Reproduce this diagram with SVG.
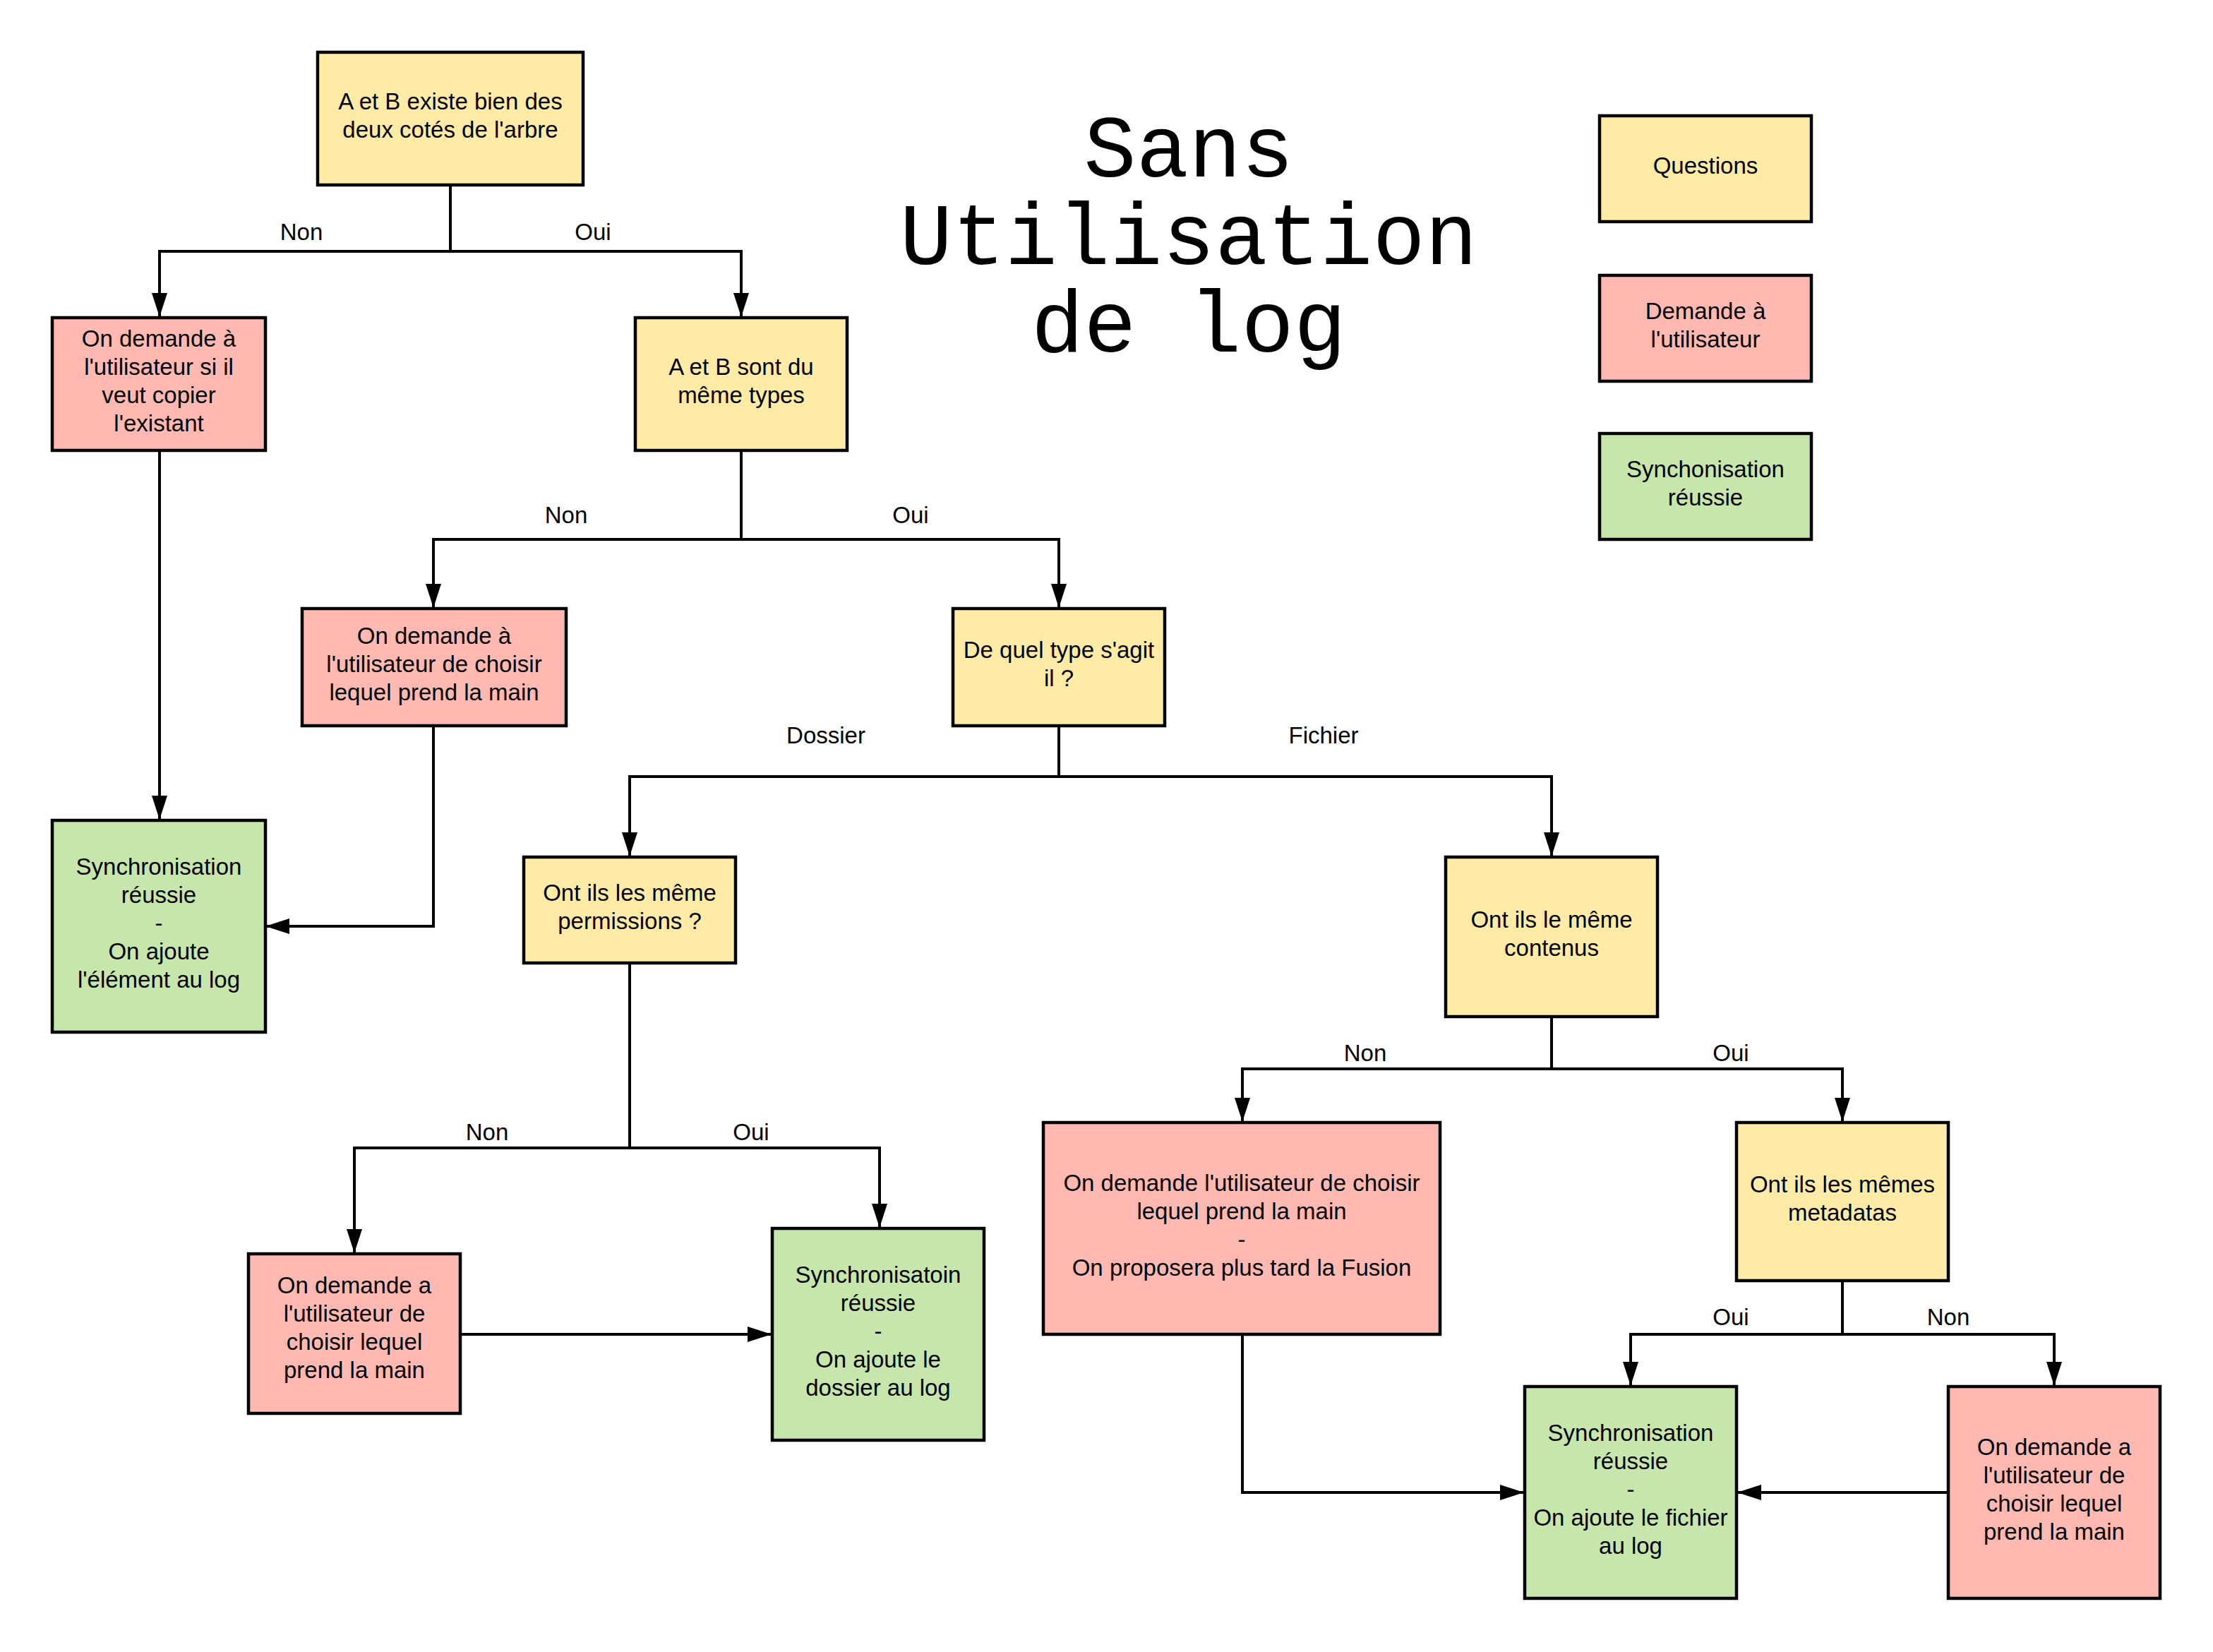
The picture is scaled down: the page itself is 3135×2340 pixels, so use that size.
<svg xmlns="http://www.w3.org/2000/svg" width="3135" height="2340" viewBox="0 0 3135 2340">
<style>
.q{fill:#FFEBA6;stroke:#000;stroke-width:4.5}
.d{fill:#FFB9B0;stroke:#000;stroke-width:4.5}
.s{fill:#C6E6AC;stroke:#000;stroke-width:4.5}
text{font-family:"Liberation Sans",Arial,sans-serif;font-size:33px;fill:#000;text-anchor:middle}
.t{font-family:"Liberation Mono","Courier New",monospace;font-size:124px}
.c{fill:none;stroke:#000;stroke-width:4;marker-end:url(#a)}
.n{fill:none;stroke:#000;stroke-width:4}
</style>
<defs>
<marker id="a" viewBox="0 0 34 22" refX="33" refY="11" markerWidth="34" markerHeight="22" markerUnits="userSpaceOnUse" orient="auto">
<path d="M0,0 L34,11 L0,22 z" fill="#000"/>
</marker>
</defs>
<rect width="3135" height="2340" fill="#fff"/>
<g id="title">
<text class="t" x="1684" y="250">Sans</text>
<text class="t" x="1684" y="374">Utilisation</text>
<text class="t" x="1684" y="498">de log</text>
</g>
<g id="connectors">
<path class="n" d="M638,262 V356"/>
<path class="c" d="M638,356 H226 V448"/>
<path class="c" d="M638,356 H1050 V448"/>
<path class="c" d="M226,638 V1160"/>
<path class="n" d="M1050,638 V764"/>
<path class="c" d="M1050,764 H614 V860"/>
<path class="c" d="M1050,764 H1500 V860"/>
<path class="c" d="M614,1028 V1312 H377"/>
<path class="n" d="M1500,1028 V1100"/>
<path class="c" d="M1500,1100 H892 V1212"/>
<path class="c" d="M1500,1100 H2198 V1212"/>
<path class="n" d="M892,1364 V1626"/>
<path class="c" d="M892,1626 H502 V1774"/>
<path class="c" d="M892,1626 H1246 V1738"/>
<path class="c" d="M652,1890 H1092"/>
<path class="n" d="M2198,1440 V1514"/>
<path class="c" d="M2198,1514 H1760 V1588"/>
<path class="c" d="M2198,1514 H2610 V1588"/>
<path class="c" d="M1760,1890 V2114 H2158"/>
<path class="n" d="M2610,1814 V1890"/>
<path class="c" d="M2610,1890 H2310 V1962"/>
<path class="c" d="M2610,1890 H2910 V1962"/>
<path class="c" d="M2760,2114 H2462"/>
<text x="427" y="340">Non</text>
<text x="840" y="340">Oui</text>
<text x="802" y="741">Non</text>
<text x="1290" y="741">Oui</text>
<text x="1170" y="1053">Dossier</text>
<text x="1875" y="1053">Fichier</text>
<text x="690" y="1615">Non</text>
<text x="1064" y="1615">Oui</text>
<text x="1934" y="1503">Non</text>
<text x="2452" y="1503">Oui</text>
<text x="2452" y="1877">Oui</text>
<text x="2760" y="1877">Non</text>
</g>
<g id="n1"><rect class="q" x="450" y="74" width="376" height="188"/>
<text x="638" y="155">A et B existe bien des</text><text x="638" y="195">deux cotés de l'arbre</text></g>
<g id="n2"><rect class="d" x="74" y="450" width="302" height="188"/>
<text x="225" y="491">On demande à</text><text x="225" y="531">l'utilisateur si il</text><text x="225" y="571">veut copier</text><text x="225" y="611">l'existant</text></g>
<g id="n3"><rect class="q" x="900" y="450" width="300" height="188"/>
<text x="1050" y="531">A et B sont du</text><text x="1050" y="571">même types</text></g>
<g id="n4"><rect class="d" x="428" y="862" width="374" height="166"/>
<text x="615" y="912">On demande à</text><text x="615" y="952">l'utilisateur de choisir</text><text x="615" y="992">lequel prend la main</text></g>
<g id="n5"><rect class="q" x="1350" y="862" width="300" height="166"/>
<text x="1500" y="932">De quel type s'agit</text><text x="1500" y="972">il ?</text></g>
<g id="n6"><rect class="s" x="74" y="1162" width="302" height="300"/>
<text x="225" y="1239">Synchronisation</text><text x="225" y="1279">réussie</text><text x="225" y="1319">-</text><text x="225" y="1359">On ajoute</text><text x="225" y="1399">l'élément au log</text></g>
<g id="n7"><rect class="q" x="742" y="1214" width="300" height="150"/>
<text x="892" y="1276">Ont ils les même</text><text x="892" y="1316">permissions ?</text></g>
<g id="n8"><rect class="q" x="2048" y="1214" width="300" height="226"/>
<text x="2198" y="1314">Ont ils le même</text><text x="2198" y="1354">contenus</text></g>
<g id="n9"><rect class="d" x="352" y="1776" width="300" height="226"/>
<text x="502" y="1832">On demande a</text><text x="502" y="1872">l'utilisateur de</text><text x="502" y="1912">choisir lequel</text><text x="502" y="1952">prend la main</text></g>
<g id="n10"><rect class="s" x="1094" y="1740" width="300" height="300"/>
<text x="1244" y="1817">Synchronisatoin</text><text x="1244" y="1857">réussie</text><text x="1244" y="1897">-</text><text x="1244" y="1937">On ajoute le</text><text x="1244" y="1977">dossier au log</text></g>
<g id="n11"><rect class="d" x="1478" y="1590" width="562" height="300"/>
<text x="1759" y="1687">On demande l'utilisateur de choisir</text><text x="1759" y="1727">lequel prend la main</text><text x="1759" y="1767">-</text><text x="1759" y="1807">On proposera plus tard la Fusion</text></g>
<g id="n12"><rect class="q" x="2460" y="1590" width="300" height="224"/>
<text x="2610" y="1689">Ont ils les mêmes</text><text x="2610" y="1729">metadatas</text></g>
<g id="n13"><rect class="s" x="2160" y="1964" width="300" height="300"/>
<text x="2310" y="2041">Synchronisation</text><text x="2310" y="2081">réussie</text><text x="2310" y="2121">-</text><text x="2310" y="2161">On ajoute le fichier</text><text x="2310" y="2201">au log</text></g>
<g id="n14"><rect class="d" x="2760" y="1964" width="300" height="300"/>
<text x="2910" y="2061">On demande a</text><text x="2910" y="2101">l'utilisateur de</text><text x="2910" y="2141">choisir lequel</text><text x="2910" y="2181">prend la main</text></g>
<g id="legend-q"><rect class="q" x="2266" y="164" width="300" height="150"/>
<text x="2416" y="246">Questions</text></g>
<g id="legend-d"><rect class="d" x="2266" y="390" width="300" height="150"/>
<text x="2416" y="452">Demande à</text><text x="2416" y="492">l'utilisateur</text></g>
<g id="legend-s"><rect class="s" x="2266" y="614" width="300" height="150"/>
<text x="2416" y="676">Synchonisation</text><text x="2416" y="716">réussie</text></g>
</svg>
